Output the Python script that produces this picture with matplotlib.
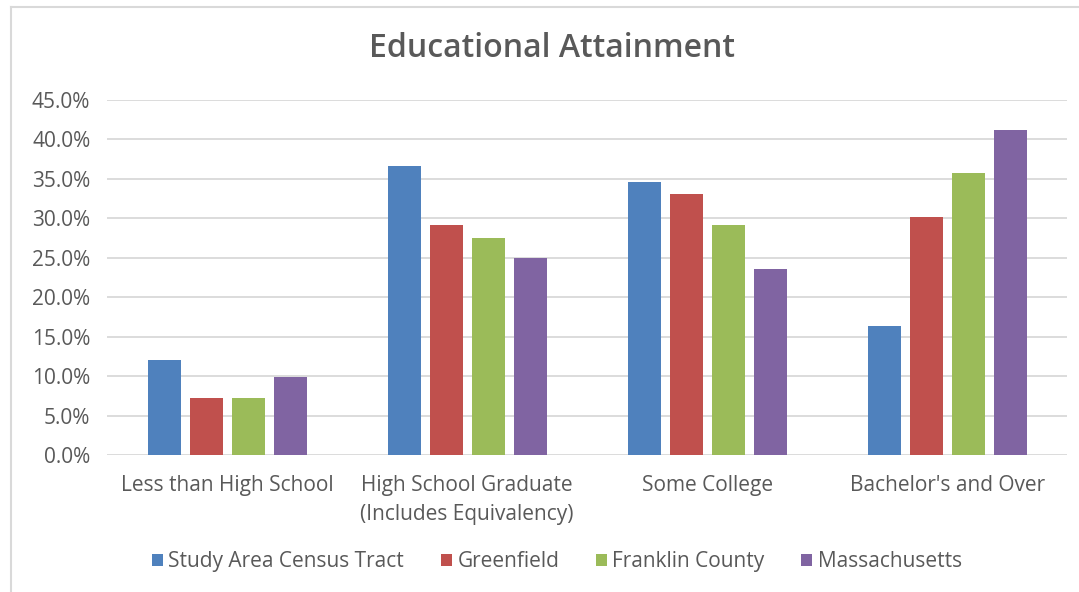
import numpy as np
import matplotlib
matplotlib.use('Agg')
from matplotlib import pyplot as plt
from matplotlib.ticker import FuncFormatter

categories = ['Less than High School', 'High School Graduate\n(Includes Equivalency)',
              'Some College', "Bachelor's and Over"]
series = ['Study Area Census Tract', 'Greenfield', 'Franklin County', 'Massachusetts']
study_area = [12.1, 36.7, 34.6, 16.3]
greenfield = [7.2, 29.2, 33.1, 30.2]
franklin = [7.2, 27.5, 29.2, 35.8]
massachusetts = [9.9, 25.0, 23.6, 41.2]
colors = ['#4f81bd', '#c0504d', '#9bbb59', '#8064a2']

plt.rcParams['font.family'] = ['Open Sans', 'DejaVu Sans']
txt = '#595959'

fig = plt.figure(figsize=(10.79, 5.92), dpi=100)
ax = fig.add_axes([0.0992, 0.2314, 0.8898, 0.5996])

x = np.arange(len(categories))
step, width = 0.175, 0.1375
for i, (vals, name) in enumerate(zip([study_area, greenfield, franklin, massachusetts], series)):
    ax.bar(x + (i - 1.5) * step, np.array(vals) / 100, width, color=colors[i],
           label=name, zorder=3)

ax.set_ylim(0, 0.45)
ax.set_xlim(-0.5, 3.5)
ax.set_yticks(np.arange(0, 0.451, 0.05))
ax.yaxis.set_major_formatter(FuncFormatter(lambda v, p: '%.1f%%' % (v * 100)))
ax.grid(axis='y', color='#d9d9d9', linewidth=1.3, zorder=0)
for s in ax.spines.values():
    s.set_visible(False)
ax.tick_params(axis='y', length=0, pad=12, labelsize=15, labelcolor=txt)
ax.tick_params(axis='x', length=0, pad=14.5, labelsize=15, labelcolor=txt)
ax.set_xticks(x)
ax.set_xticklabels(categories, linespacing=1.5)

fig.text(0.512, 0.918, 'Educational Attainment', ha='center', va='center',
         fontsize=23, fontweight='semibold', color=txt)

leg = fig.legend(loc='center', bbox_to_anchor=(0.516, 0.051), ncol=4, frameon=False,
                 fontsize=15, handlelength=0.55, handleheight=0.55, handletextpad=0.25,
                 columnspacing=1.75)
for t in leg.get_texts():
    t.set_color(txt)

# chart frame (top and left edges only visible)
fig.add_artist(plt.Line2D([0.0102, 0.0102], [0, 0.988], color='#d9d9d9', lw=1.5,
                          transform=fig.transFigure))
fig.add_artist(plt.Line2D([0.0102, 1.0], [0.988, 0.988], color='#d9d9d9', lw=1.5,
                          transform=fig.transFigure))

fig.savefig('out.png', dpi=100)
